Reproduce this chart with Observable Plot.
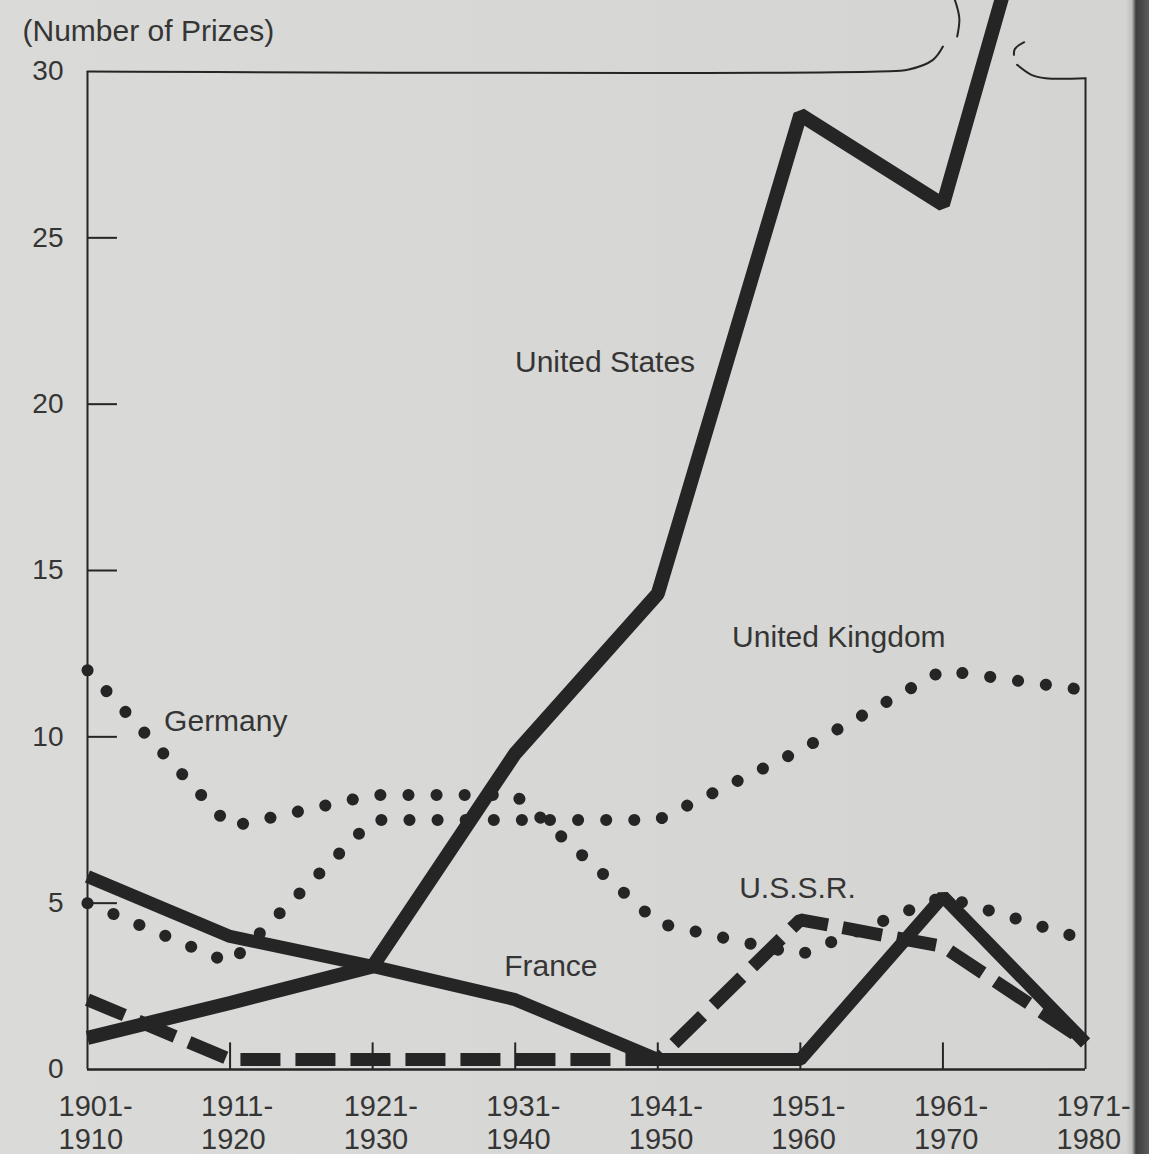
<!DOCTYPE html>
<html>
<head>
<meta charset="utf-8">
<script src="https://cdn.jsdelivr.net/npm/d3@7"></script>
<script src="https://cdn.jsdelivr.net/npm/@observablehq/plot@0.6"></script>
<style>
  html, body { margin: 0; padding: 0; }
  body {
    width: 1149px; height: 1154px; overflow: hidden;
    background: linear-gradient(to right, #dadad8 0px, #d4d4d2 1126px, #bdbdbc 1132px, #3e3e3e 1136px, #4a4a4a 1142px, #5c5c5c 1149px);
  }
  #chart svg { display: block; }
</style>
</head>
<body>
<div id="chart"></div>
<script>
// ---------------- data ----------------
const decades = [1901, 1911, 1921, 1931, 1941, 1951, 1961, 1971];
const decadeLabels = ["1901-\n1910", "1911-\n1920", "1921-\n1930", "1931-\n1940",
                      "1941-\n1950", "1951-\n1960", "1961-\n1970", "1971-\n1980"];
const yTickValues = [0, 5, 10, 15, 20, 25, 30];
const yAxisTitle = "(Number of Prizes)";

const seriesNames = ["United States", "United Kingdom", "Germany", "U.S.S.R.", "France"];
const unitedStates  = [0.95, 2.0, 3.1, 9.5, 14.3, 28.7, 26.0, 41];
const unitedKingdom = [5.0, 3.2, 7.5, 7.5, 7.5, 9.6, 12.0, 11.4];
const germany       = [12.0, 7.3, 8.25, 8.25, 4.4, 3.45, 5.2, 3.9];
const ussr          = [2.1, 0.3, 0.3, 0.3, 0.3, 4.5, 3.7, 0.85];
const france        = [5.8, 4.0, 3.1, 2.1, 0.3, 0.3, 5.2, 0.8];

// ---------------- chart ----------------
const rows = (values, name) => values.map((v, i) => ({series: name, decade: decades[i], value: v}));
const ink = "#252525";
const textInk = "#353535";

// label placements (in data coordinates)
const labelPlacement = {
  "United States":  [1937.3, 21.25],
  "United Kingdom": [1953.7, 13.0],
  "Germany":        [1910.7, 10.45],
  "U.S.S.R.":       [1950.8, 5.45],
  "France":         [1933.5, 3.1]
};

// broken top border (decoration), in data coordinates
const topLeftPiece  = [[1901, 30], [1956.5, 30], [1958.6, 30.06], [1960.3, 30.35], [1961.0, 30.75]];
const breakArcRight = [[1961.8, 32.2], [1962.15, 31.6], [1962.0, 31.05]];
const breakArcLeft  = [[1966.7, 30.88], [1966.05, 30.68], [1965.98, 30.5]];
const topRightPiece = [[1966.2, 30.2], [1967.2, 29.9], [1968.2, 29.8], [1971, 29.8]];
const fx = d => d[0], fy = d => d[1];

const chart = Plot.plot({
  width: 1149,
  height: 1154,
  marginTop: 71,
  marginBottom: 85,
  marginLeft: 87,
  marginRight: 64,
  style: {
    background: "transparent",
    fontFamily: "'Liberation Sans', Arial, Helvetica, sans-serif",
    fontSize: "28px",
    color: textInk
  },
  x: {domain: [1901, 1971], axis: null},
  y: {domain: [0, 30], ticks: yTickValues, tickSize: 0, tickPadding: 24, label: null},
  marks: [
    // frame
    Plot.ruleX([1901], {y1: 0, y2: 30, stroke: ink, strokeWidth: 2}),
    Plot.ruleX([1971], {y1: 0, y2: 29.8, stroke: ink, strokeWidth: 2}),
    Plot.ruleY([0], {x1: 1901, x2: 1971, stroke: ink, strokeWidth: 2.5}),
    Plot.line(topLeftPiece, {x: fx, y: fy, curve: "catmull-rom", stroke: ink, strokeWidth: 2}),
    Plot.line(breakArcRight, {x: fx, y: fy, curve: "catmull-rom", stroke: ink, strokeWidth: 2}),
    Plot.line(breakArcLeft, {x: fx, y: fy, curve: "catmull-rom", stroke: ink, strokeWidth: 2}),
    Plot.line(topRightPiece, {x: fx, y: fy, curve: "catmull-rom", stroke: ink, strokeWidth: 2}),
    // inner ticks
    Plot.ruleY(yTickValues.filter(v => v > 0 && v < 30), {x1: 1901, x2: 1903.1, stroke: ink, strokeWidth: 2}),
    Plot.ruleX(decades.slice(1, -1), {y1: 0, y2: 0.8, stroke: ink, strokeWidth: 2}),
    // series
    Plot.line(rows(unitedKingdom, seriesNames[1]), {x: "decade", y: "value", stroke: ink, strokeWidth: 12,
      strokeDasharray: "0.1,28", strokeLinecap: "round", strokeLinejoin: "round"}),
    Plot.line(rows(germany, seriesNames[2]), {x: "decade", y: "value", stroke: ink, strokeWidth: 12,
      strokeDasharray: "0.1,28", strokeLinecap: "round", strokeLinejoin: "round"}),
    Plot.line(rows(ussr, seriesNames[3]), {x: "decade", y: "value", stroke: ink, strokeWidth: 13,
      strokeDasharray: "40,15", strokeLinecap: "butt", strokeLinejoin: "miter"}),
    Plot.line(rows(france, seriesNames[4]), {x: "decade", y: "value", stroke: ink, strokeWidth: 13,
      strokeLinecap: "butt", strokeLinejoin: "miter"}),
    Plot.line(rows(unitedStates, seriesNames[0]), {x: "decade", y: "value", stroke: ink, strokeWidth: 14,
      strokeLinecap: "butt", strokeLinejoin: "miter"}),
    // series labels
    Plot.text(seriesNames, {
      x: d => labelPlacement[d][0], y: d => labelPlacement[d][1], text: d => d,
      fontSize: 30, fill: textInk, textAnchor: "middle", lineAnchor: "middle"
    }),
    // x tick labels
    Plot.text(decades, {
      x: d => d, y: 0, text: (d, i) => decadeLabels[i],
      fontSize: 29, fill: textInk, textAnchor: "start", dx: -29, dy: 52,
      lineAnchor: "middle", lineHeight: 1.15
    }),
    // y axis title
    Plot.text([yAxisTitle], {
      frameAnchor: "top-left", text: d => d, dx: -65, dy: -40,
      fontSize: 30, fill: textInk, textAnchor: "start", lineAnchor: "middle"
    })
  ]
});
document.getElementById("chart").appendChild(chart);
</script>
</body>
</html>
